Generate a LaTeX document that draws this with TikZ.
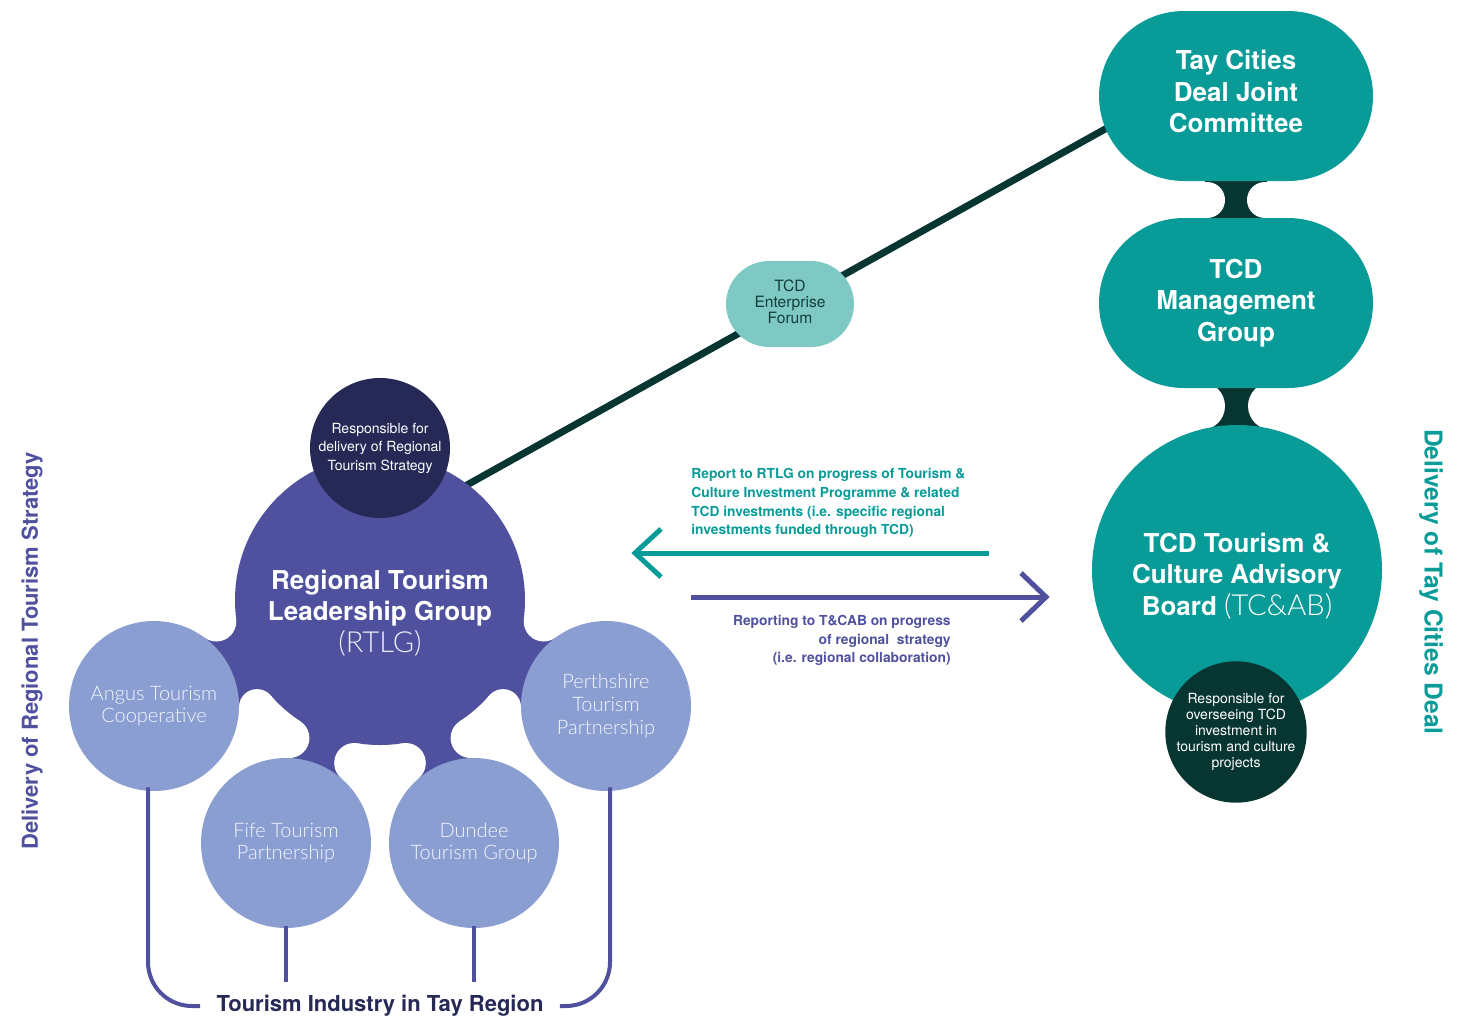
\documentclass[tikz,border=0pt]{standalone}
\usepackage{fontspec}
\setmainfont{TeX Gyre Heros}
\IfFontExistsTF{Lato Light}{\newfontfamily\lightfont{Lato Light}}{\newfontfamily\lightfont{TeX Gyre Heros}}
\definecolor{tealc}{HTML}{089B97}
\definecolor{darkc}{HTML}{073532}
\definecolor{forumc}{HTML}{7FC9C5}
\definecolor{forumtxt}{HTML}{123E3B}
\definecolor{purp}{HTML}{4F519E}
\definecolor{navyc}{HTML}{262856}
\definecolor{satc}{HTML}{8A9ED1}
\definecolor{sattxt}{HTML}{F4F6FC}
\newcommand\fsz[2]{\fontsize{#1}{#2}\selectfont}
\begin{document}
\begin{tikzpicture}[x=0.5pt,y=-0.5pt,
  stadium/.style={rectangle, fill=tealc, rounded corners=42.5pt, minimum width=137pt, minimum height=85pt, inner sep=0pt, text=white, align=center, font=\bfseries\fsz{13}{15.75}},
  titletext/.style={inner sep=0pt, text=white, align=center, font=\bfseries\fsz{13}{15.75}},
  sat/.style={circle, fill=satc, minimum size=85pt, inner sep=0pt, text=sattxt, align=center, font=\lightfont\fsz{10}{11.3}},
  respcircle/.style={circle, minimum size=70pt, inner sep=0pt, text=white, align=center},
  bracket/.style={purp, line width=2pt},
  flowline/.style={line width=2.5pt, line join=miter}
]
\useasboundingbox (0,0) rectangle (1471,1017);

% long connector RTLG -- Tay Cities Deal Joint Committee
\coordinate (lnA) at (440,500);
\coordinate (lnB) at (1150,104);
\draw[darkc, line width=3.5pt] (lnA) -- (lnB);

% necks between the teal bodies
\fill[darkc] (1205,176) rectangle (1267,224);
\fill[white] (1207,200) circle[radius=9pt] (1265,200) circle[radius=9pt];
\fill[darkc] (1205,383) rectangle (1268,432);
\fill[white] (1201,406) circle[radius=12pt] (1272,406) circle[radius=12pt];

\node[stadium, text depth=4.5pt] (tcdjc) at (1236,96) {Tay Cities\\Deal Joint\\Committee};
\node[stadium] (tcdmg) at (1236,303) {TCD\\Management\\Group};
\node[circle, fill=tealc, minimum size=145pt, inner sep=0pt] (tcab) at (1237,570) {};
\node[titletext] (tcablabel) at (1237,576) {TCD Tourism \&\\Culture Advisory\\Board {\mdseries\lightfont\fsz{14.5}{15.75}(TC\&AB)}};
\node[respcircle, fill=darkc, font=\fsz{7}{8}] (tcabresp) at (1236,732) {Responsible for\\overseeing TCD\\investment in\\tourism and culture\\projects};

% forum on the connector
\node[rectangle, rounded corners=21.5pt, fill=forumc, minimum width=64pt, minimum height=43pt, inner sep=0pt, text=forumtxt, align=center, font=\fsz{7.8}{8}, text depth=2pt] (forum) at (790,304) {TCD\\Enterprise\\Forum};

% RTLG blob necks
\fill[purp] (154,706) -- (216.3,621.5) -- (380,600) -- (257,707.1) -- cycle;
\fill[purp] (380,600) -- (289.4,738) -- (286,843) -- (354.2,763) -- cycle;
\fill[purp] (380,600) -- (405.8,763) -- (474,843) -- (470.6,738) -- cycle;
\fill[purp] (380,600) -- (503,707.1) -- (606,706) -- (543.7,621.5) -- cycle;
\node[circle, fill=purp, minimum size=145pt, inner sep=0pt] (rtlg) at (380,600) {};
\fill[white] (216.3,621.5) circle[radius=10pt] (257,707.1) circle[radius=9pt]
  (289.4,738) circle[radius=10pt] (354.2,763) circle[radius=10pt]
  (405.8,763) circle[radius=10pt] (470.6,738) circle[radius=10pt]
  (503,707.1) circle[radius=9pt] (543.7,621.5) circle[radius=10pt];
\node[titletext] (rtlglabel) at (380,613) {Regional Tourism\\Leadership Group\\{\mdseries\lightfont\fsz{14.5}{16.25}\color{white!90!purp}(RTLG)}};
\node[respcircle, fill=navyc, font=\fsz{7}{9.25}] (rtlgresp) at (380,448) {Responsible for\\delivery of Regional\\Tourism Strategy};

\node[sat] (angus) at (154,706) {Angus Tourism\\Cooperative};
\node[sat] (fife) at (286,843) {Fife Tourism\\Partnership};
\node[sat] (dundee) at (474,843) {Dundee\\Tourism Group};
\node[sat] (perth) at (606,706) {Perthshire\\Tourism\\Partnership};

% bracket
\node[font=\bfseries\fsz{11}{13}, text=navyc, inner xsep=8pt, inner ysep=0pt] (industry) at (380,1006) {Tourism Industry in Tay Region};
\draw[bracket, rounded corners=22pt] ([xshift=-3pt,yshift=2pt]angus.south) |- (industry.west);
\draw[bracket, rounded corners=22pt] ([xshift=2pt,yshift=2pt]perth.south) |- (industry.east);
\coordinate (fifeend) at (286,982);
\coordinate (dundeeend) at (474,982);
\draw[bracket] ([yshift=1pt]fife.south) -- (fifeend);
\draw[bracket] ([yshift=1pt]dundee.south) -- (dundeeend);

% arrows
\coordinate (tA) at (989,553);
\coordinate (tB) at (635,553);
\draw[tealc, flowline] (tA) -- (tB);
\draw[tealc, flowline] (tB) ++(26,-24) -- (tB) -- ++(26,24);
\coordinate (pA) at (691,597);
\coordinate (pB) at (1046,597);
\draw[purp, flowline] (pA) -- (pB);
\draw[purp, flowline] (pB) ++(-25,-24) -- (pB) -- ++(-25,24);

\node[anchor=north west, inner sep=0pt, align=left, text=tealc, font=\bfseries\fsz{6.9}{9.35}] (tealtext) at (691,468) {Report to RTLG on progress of Tourism \&\\Culture Investment Programme \& related\\TCD investments (i.e. specific regional\\investments funded through TCD)};
\node[anchor=north east, inner sep=0pt, align=right, text=purp, font=\bfseries\fsz{6.9}{9.3}] (purptext) at (951,615) {Reporting to T\&CAB on progress\\of regional\ \ strategy\\(i.e. regional collaboration)};

% side labels
\node[rotate=90, text=purp, font=\bfseries\fsz{11}{13}] (leftlabel) at (32,651) {Delivery of Regional Tourism Strategy};
\node[rotate=-90, text=tealc, font=\bfseries\fsz{12.3}{14}] (rightlabel) at (1431,582) {Delivery of Tay Cities Deal};
\end{tikzpicture}
\end{document}
